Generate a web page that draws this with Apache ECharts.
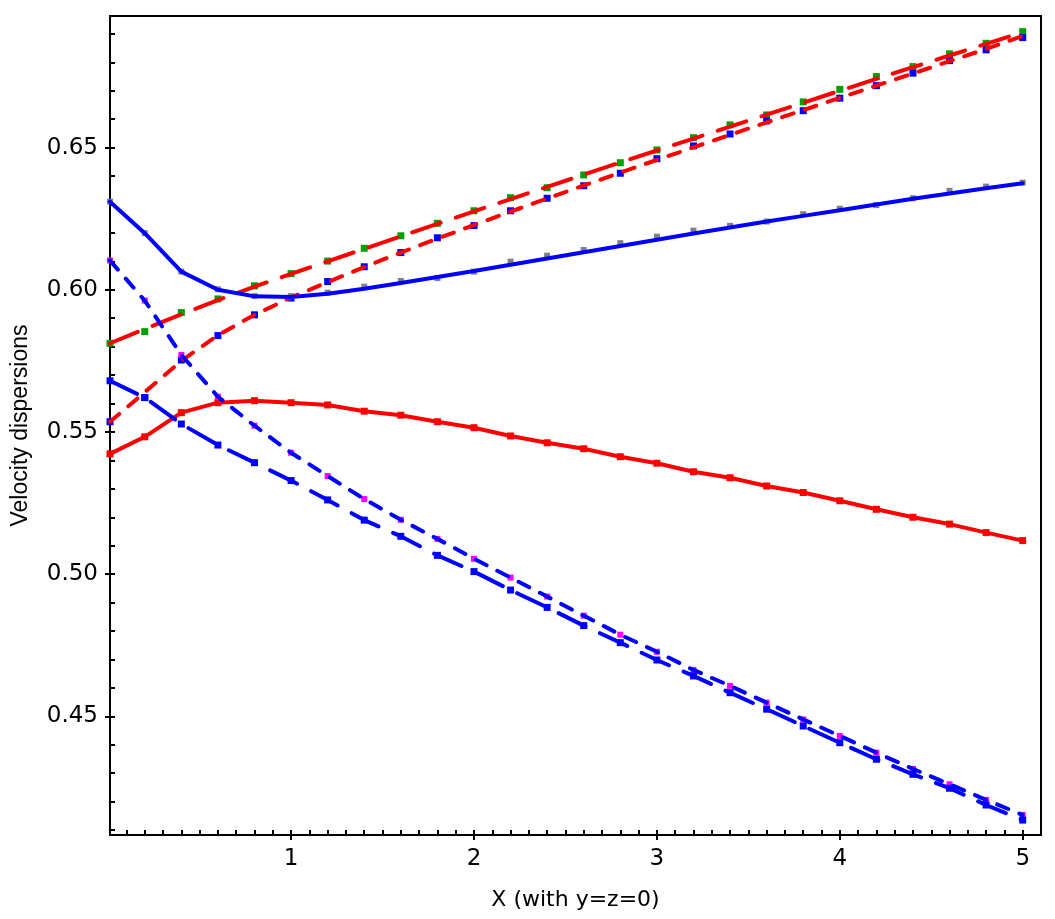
<!DOCTYPE html>
<html>
<head>
<meta charset="utf-8">
<script src="https://cdn.jsdelivr.net/npm/echarts@6.0.0/dist/echarts.min.js"></script>
<style>
  html, body { margin: 0; padding: 0; background: #fff; }
  #chart { width: 1055px; height: 919px; }
</style>
</head>
<body>
<div id="chart"></div>
<script>
// sample positions along X
const xs = [0.01, 0.2, 0.4, 0.6, 0.8, 1.0, 1.2, 1.4, 1.6, 1.8, 2.0, 2.2, 2.4,
  2.6, 2.8, 3.0, 3.2, 3.4, 3.6, 3.8, 4.0, 4.2, 4.4, 4.6, 4.8, 5.0]

// red long dash + green points
const redLongLine = [0.5812, 0.5862, 0.5914, 0.5964, 0.6011, 0.6056, 0.6100, 0.6144, 0.6188,
  0.6232, 0.6276, 0.6319, 0.6362, 0.6405, 0.6448, 0.6490, 0.6532, 0.6574, 0.6616, 0.6658,
  0.6700, 0.6742, 0.6783, 0.6824, 0.6865, 0.6906]
const greenPts = [0.5812, 0.5853, 0.5920, 0.5968, 0.6014, 0.6057, 0.6101, 0.6146, 0.6190,
  0.6234, 0.6278, 0.6324, 0.6359, 0.6404, 0.6447, 0.6492, 0.6535, 0.6580, 0.6615, 0.6661,
  0.6705, 0.6750, 0.6785, 0.6830, 0.6867, 0.6908]

// red short dash + blue points
const redShortLine = [0.5536, 0.5640, 0.5750, 0.5840, 0.5912, 0.5973, 0.6027, 0.6080, 0.6131,
  0.6180, 0.6228, 0.6275, 0.6321, 0.6367, 0.6412, 0.6457, 0.6501, 0.6545, 0.6589, 0.6632,
  0.6675, 0.6718, 0.6761, 0.6804, 0.6847, 0.6893]
const redShortPts = [0.5536, 0.5621, 0.5753, 0.5839, 0.5912, 0.5971, 0.6029, 0.6081, 0.6131,
  0.6183, 0.6226, 0.6278, 0.6322, 0.6366, 0.6410, 0.6461, 0.6506, 0.6548, 0.6594, 0.6630,
  0.6674, 0.6718, 0.6762, 0.6806, 0.6844, 0.6887]

// blue solid + grey points
const blueSolidLine = [0.6310, 0.6199, 0.6064, 0.6000, 0.5977, 0.5975, 0.5986, 0.6004, 0.6024,
  0.6045, 0.6066, 0.6088, 0.6110, 0.6132, 0.6154, 0.6176, 0.6198, 0.6219, 0.6240, 0.6260,
  0.6280, 0.6300, 0.6320, 0.6339, 0.6357, 0.6375]
const greyPts = [0.6310, 0.6199, 0.6064, 0.6002, 0.5978, 0.5978, 0.5990, 0.6011, 0.6031,
  0.6041, 0.6064, 0.6099, 0.6120, 0.6140, 0.6164, 0.6187, 0.6208, 0.6225, 0.6240, 0.6266,
  0.6285, 0.6298, 0.6322, 0.6348, 0.6363, 0.6377]

// red solid (line and points)
const redSolid = [0.5423, 0.5483, 0.5568, 0.5603, 0.5610, 0.5603, 0.5595, 0.5573, 0.5559,
  0.5536, 0.5515, 0.5486, 0.5462, 0.5441, 0.5413, 0.5390, 0.5360, 0.5339, 0.5310, 0.5287,
  0.5258, 0.5228, 0.5200, 0.5176, 0.5146, 0.5118]

// blue short dash + magenta points
const blueShort = [0.6103, 0.5962, 0.5771, 0.5624, 0.5522, 0.5427, 0.5345, 0.5264, 0.5191,
  0.5124, 0.5054, 0.4988, 0.4921, 0.4854, 0.4787, 0.4727, 0.4663, 0.4607, 0.4548, 0.4489,
  0.4431, 0.4372, 0.4315, 0.4261, 0.4206, 0.4153]

// blue long dash + blue points
const blueLong = [0.5680, 0.5621, 0.5528, 0.5454, 0.5392, 0.5329, 0.5261, 0.5190, 0.5133,
  0.5066, 0.5009, 0.4944, 0.4883, 0.4819, 0.4759, 0.4698, 0.4642, 0.4583, 0.4525, 0.4466,
  0.4407, 0.4349, 0.4296, 0.4247, 0.4188, 0.4135]

// ticks
const xMajor = [1, 2, 3, 4, 5]
const xMinor = [0.1, 0.2, 0.3, 0.4, 0.5, 0.6, 0.7, 0.8, 0.9, 1.0, 1.1, 1.2, 1.3, 1.4, 1.5,
  1.6, 1.7, 1.8, 1.9, 2.0, 2.1, 2.2, 2.3, 2.4, 2.5, 2.6, 2.7, 2.8, 2.9, 3.0, 3.1, 3.2, 3.3,
  3.4, 3.5, 3.6, 3.7, 3.8, 3.9, 4.0, 4.1, 4.2, 4.3, 4.4, 4.5, 4.6, 4.7, 4.8, 4.9, 5.0]
const yMajor = [0.45, 0.5, 0.55, 0.6, 0.65]
const yMinor = [0.41, 0.42, 0.43, 0.44, 0.45, 0.46, 0.47, 0.48, 0.49, 0.5, 0.51, 0.52, 0.53,
  0.54, 0.55, 0.56, 0.57, 0.58, 0.59, 0.6, 0.61, 0.62, 0.63, 0.64, 0.65, 0.66, 0.67, 0.68, 0.69]

const X_MIN = 0.01
const X_MAX = 5.1
const Y_MIN = 0.40825
const Y_MAX = 0.6963

const pairs = (ys) => xs.map((x, i) => [x, ys[i]])

const lineSeries = (ys, color, dash) => ({
  type: 'line',
  data: pairs(ys),
  showSymbol: false,
  symbol: 'none',
  z: 3,
  lineStyle: { color: color, width: 4, type: dash, cap: 'round' },
  animation: false
})

const dotSeries = (ys, color, size) => ({
  type: 'scatter',
  data: pairs(ys),
  symbol: 'rect',
  symbolSize: size,
  z: 2,
  itemStyle: { color: color, opacity: 1 },
  animation: false
})

const tickFont = { fontFamily: 'DejaVu Sans', fontSize: 23, color: '#000' }

const chart = echarts.init(document.getElementById('chart'))
chart.setOption({
  backgroundColor: '#fff',
  animation: false,
  grid: {
    left: 110,
    right: 14,
    top: 16,
    bottom: 84,
    show: true,
    borderColor: '#000',
    borderWidth: 2
  },
  xAxis: [
    {
      type: 'value',
      min: X_MIN,
      max: X_MAX,
      position: 'bottom',
      name: 'X (with y=z=0)',
      nameLocation: 'middle',
      nameGap: 54,
      nameTextStyle: { fontFamily: 'DejaVu Sans', fontSize: 22, color: '#000' },
      axisLine: { show: true, onZero: false, lineStyle: { color: '#000', width: 2 } },
      axisTick: { show: true, inside: false, length: 5, customValues: xMajor, lineStyle: { color: '#000', width: 2 } },
      axisLabel: { show: true, margin: 13, customValues: xMajor, ...tickFont },
      splitLine: { show: false }
    },
    {
      type: 'value',
      min: X_MIN,
      max: X_MAX,
      position: 'bottom',
      axisLine: { show: false, onZero: false },
      axisTick: { show: true, inside: true, length: 5, customValues: xMinor, lineStyle: { color: '#000', width: 2 } },
      axisLabel: { show: false },
      splitLine: { show: false }
    }
  ],
  yAxis: [
    {
      type: 'value',
      min: Y_MIN,
      max: Y_MAX,
      position: 'left',
      name: 'Velocity dispersions',
      nameLocation: 'middle',
      nameGap: 78,
      nameTextStyle: { fontFamily: 'Liberation Sans', fontSize: 23, color: '#000' },
      axisLine: { show: true, onZero: false, lineStyle: { color: '#000', width: 2 } },
      axisTick: { show: true, inside: false, length: 5, customValues: yMajor, lineStyle: { color: '#000', width: 2 } },
      axisLabel: {
        show: true,
        margin: 12,
        customValues: yMajor,
        formatter: (v) => v.toFixed(2),
        ...tickFont
      },
      splitLine: { show: false }
    },
    {
      type: 'value',
      min: Y_MIN,
      max: Y_MAX,
      position: 'left',
      axisLine: { show: false, onZero: false },
      axisTick: { show: true, inside: true, length: 5, customValues: yMinor, lineStyle: { color: '#000', width: 2 } },
      axisLabel: { show: false },
      splitLine: { show: false }
    }
  ],
  series: [
    // points first, lines drawn over them
    dotSeries(greenPts, '#00a000', 7),
    dotSeries(redShortPts, '#0000ff', 7),
    dotSeries(greyPts, '#808080', 6),
    dotSeries(redSolid, '#ff0000', 7),
    dotSeries(blueShort, '#ff00ff', 6),
    dotSeries(blueLong, '#0000ff', 7),
    lineSeries(redLongLine, '#ff0000', [30, 16]),
    lineSeries(redShortLine, '#ff0000', [12, 12]),
    lineSeries(blueSolidLine, '#0000ff', 'solid'),
    lineSeries(redSolid, '#ff0000', 'solid'),
    lineSeries(blueShort, '#0000ff', [12, 12]),
    lineSeries(blueLong, '#0000ff', [30, 16])
  ]
})
</script>
</body>
</html>
